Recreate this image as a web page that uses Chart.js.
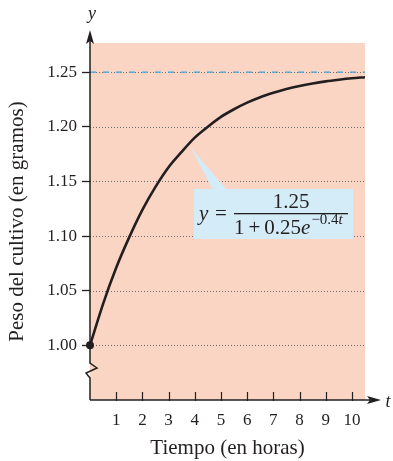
<!DOCTYPE html>
<html>
<head>
<meta charset="utf-8">
<script src="https://cdn.jsdelivr.net/npm/chart.js@4/dist/chart.umd.min.js"></script>
<style>
  html, body { margin: 0; padding: 0; background: #fff; }
  canvas { display: block; }
</style>
</head>
<body>
<canvas id="cultivo" width="393" height="461"></canvas>
<script>
// values
const tHours = [0, 0.5, 1, 1.5, 2, 2.5, 3, 3.5, 4, 4.5, 5, 5.5, 6, 6.5, 7, 7.5, 8, 8.5, 9, 9.5, 10, 10.5];
const weight = [1.000, 1.038, 1.071, 1.099, 1.124, 1.145, 1.163, 1.177, 1.190, 1.200, 1.209, 1.216,
                1.222, 1.227, 1.231, 1.2345, 1.2373, 1.2396, 1.2415, 1.243, 1.2443, 1.2453];
const asymptote = 1.25;
const xTickValues = [1, 2, 3, 4, 5, 6, 7, 8, 9, 10];
const yTickValues = [1.00, 1.05, 1.10, 1.15, 1.20, 1.25];

const ink = "#231f20";
const serif = "'Liberation Serif', 'DejaVu Serif', serif";

const decor = {
    id: "decor",
    beforeDraw(chart) {
        const { ctx, chartArea: a, scales } = chart;
        ctx.save();
        ctx.fillStyle = "#fad5c4";
        ctx.fillRect(a.left, a.top, a.right - a.left, a.bottom - a.top);
        // dotted grid lines
        ctx.strokeStyle = "#6d6e71";
        ctx.lineWidth = 1;
        ctx.setLineDash([1, 2]);
        yTickValues.forEach(v => {
            const y = Math.round(scales.y.getPixelForValue(v)) + 0.5;
            ctx.beginPath();
            ctx.moveTo(a.left, y);
            ctx.lineTo(a.right, y);
            ctx.stroke();
        });
        ctx.restore();
    },
    afterDatasetsDraw(chart) {
        const { ctx, chartArea: a, scales } = chart;
        ctx.save();
        ctx.strokeStyle = ink;
        ctx.fillStyle = ink;
        ctx.lineWidth = 1.5;

        // y axis with break
        const x0 = a.left;
        ctx.beginPath();
        ctx.moveTo(x0, 40);
        ctx.lineTo(x0, 363);
        ctx.lineTo(x0 + 7, 368);
        ctx.lineTo(x0 - 4, 373);
        ctx.lineTo(x0, 378);
        ctx.lineTo(x0, a.bottom);
        ctx.stroke();
        ctx.beginPath();
        ctx.moveTo(x0, 30);
        ctx.lineTo(x0 - 4, 44);
        ctx.lineTo(x0, 41);
        ctx.lineTo(x0 + 4, 44);
        ctx.closePath();
        ctx.fill();

        // x axis
        const yb = a.bottom;
        ctx.beginPath();
        ctx.moveTo(x0, yb);
        ctx.lineTo(372, yb);
        ctx.stroke();
        ctx.beginPath();
        ctx.moveTo(381, yb);
        ctx.lineTo(367, yb - 4);
        ctx.lineTo(370, yb);
        ctx.lineTo(367, yb + 4);
        ctx.closePath();
        ctx.fill();

        // x tick marks (inside)
        ctx.lineWidth = 1.2;
        xTickValues.forEach(v => {
            const x = Math.round(scales.x.getPixelForValue(v)) + 0.5;
            ctx.beginPath();
            ctx.moveTo(x, yb - 8);
            ctx.lineTo(x, yb + 1);
            ctx.stroke();
        });

        // axis letters
        ctx.font = "italic 18px " + serif;
        ctx.textAlign = "center";
        ctx.textBaseline = "middle";
        ctx.fillText("y", x0 + 2, 14);
        ctx.fillText("t", 388, yb + 2);

        // callout
        const tipX = scales.x.getPixelForValue(3.8);
        const tipY = scales.y.getPixelForValue(1.183);
        ctx.fillStyle = "#d3ecf8";
        ctx.beginPath();
        ctx.moveTo(tipX + 1, tipY + 2);
        ctx.lineTo(227, 190);
        ctx.lineTo(213, 190);
        ctx.closePath();
        ctx.fill();
        ctx.fillRect(194, 189, 159, 50);

        ctx.fillStyle = ink;
        ctx.textBaseline = "alphabetic";
        ctx.textAlign = "left";
        ctx.font = "italic 21px " + serif;
        ctx.fillText("y", 199, 220);
        ctx.font = "21px " + serif;
        ctx.fillText("=", 215, 220);
        ctx.textAlign = "center";
        ctx.fillText("1.25", 291, 208);
        ctx.fillRect(234, 213, 114, 1.3);
        ctx.textAlign = "left";
        let x = 234;
        ctx.fillText("1", x, 234);
        x += ctx.measureText("1").width + 4;
        ctx.fillText("+", x, 234);
        x += ctx.measureText("+").width + 4;
        ctx.fillText("0.25", x, 234);
        x += ctx.measureText("0.25").width;
        ctx.font = "italic 21px " + serif;
        ctx.fillText("e", x, 234);
        x += ctx.measureText("e").width + 1;
        ctx.font = "15px " + serif;
        ctx.fillText("\u22120.4", x, 224);
        x += ctx.measureText("\u22120.4").width;
        ctx.font = "italic 15px " + serif;
        ctx.fillText("t", x, 224);
        ctx.restore();
    }
};

const curve = tHours.map((t, i) => ({ x: t, y: weight[i] }));
const flat = [{ x: 0, y: asymptote }, { x: 10.5, y: asymptote }];

new Chart(document.getElementById("cultivo"), {
    type: "line",
    data: {
        datasets: [
            {
                data: flat,
                borderColor: "#3ea6dd",
                borderWidth: 1.3,
                borderDash: [6, 7],
                pointRadius: 0
            },
            {
                data: curve,
                borderColor: ink,
                borderWidth: 2.6,
                cubicInterpolationMode: "monotone",
                pointRadius: ctx => (ctx.dataIndex === 0 ? 4 : 0),
                pointBackgroundColor: ink,
                pointBorderWidth: 0,
                clip: false
            }
        ]
    },
    options: {
        responsive: false,
        animation: false,
        layout: { padding: { top: 43, right: 28, left: 0, bottom: 0 } },
        plugins: { legend: { display: false }, tooltip: { enabled: false } },
        scales: {
            x: {
                type: "linear",
                min: 0,
                max: 10.5,
                afterBuildTicks: s => { s.ticks = xTickValues.map(v => ({ value: v })); },
                afterFit: s => { s.height = 61; },
                grid: { display: false },
                border: { display: false },
                ticks: {
                    autoSkip: false,
                    maxRotation: 0,
                    padding: 2,
                    color: ink,
                    font: { family: serif, size: 17 }
                },
                title: {
                    display: true,
                    text: "Tiempo (en horas)",
                    color: ink,
                    font: { family: serif, size: 21 },
                    padding: { top: 0, bottom: 0 }
                }
            },
            y: {
                min: 0.95,
                max: 1.2766,
                afterBuildTicks: s => { s.ticks = yTickValues.map(v => ({ value: v })); },
                afterFit: s => { s.width = 90; },
                grid: { drawOnChartArea: false, tickColor: ink, tickLength: 8, tickWidth: 1.3 },
                border: { display: false },
                ticks: {
                    autoSkip: false,
                    padding: 5,
                    color: ink,
                    font: { family: serif, size: 17 },
                    callback: v => v.toFixed(2)
                },
                title: {
                    display: true,
                    text: "Peso del cultivo (en gramos)",
                    color: ink,
                    font: { family: serif, size: 21 },
                    padding: { top: 5, bottom: 0 }
                }
            }
        }
    },
    plugins: [decor]
});
</script>
</body>
</html>
